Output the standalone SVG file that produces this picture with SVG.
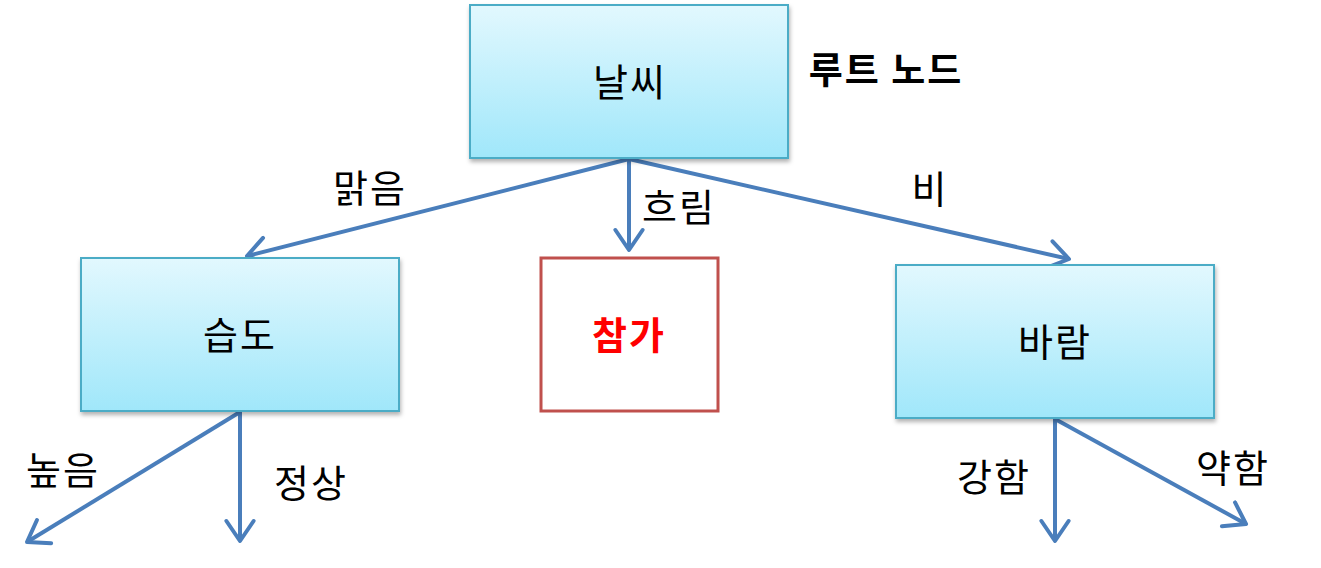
<svg xmlns="http://www.w3.org/2000/svg" width="1321" height="568" viewBox="0 0 1321 568">
<style>
.box{fill:url(#g);stroke:#4bacc6;stroke-width:2;filter:url(#sh)}
.t{font-family:"Noto Sans CJK KR","Noto Sans",sans-serif;font-size:38px;letter-spacing:2px;fill:#000;text-anchor:middle}
.c{fill:none;stroke:#4a7ebb;stroke-width:4;marker-end:url(#a)}
</style>
<defs>
<linearGradient id="g" x1="0" y1="0" x2="0" y2="1">
<stop offset="0" stop-color="#e2f8fe"/>
<stop offset="1" stop-color="#a0e7fa"/>
</linearGradient>
<filter id="sh" x="-10%" y="-10%" width="120%" height="130%">
<feDropShadow dx="1" dy="3" stdDeviation="2" flood-color="#000" flood-opacity="0.3"/>
</filter>
<marker id="a" markerWidth="8" markerHeight="8" refX="6" refY="4" orient="auto" markerUnits="strokeWidth" viewBox="0 0 8 8">
<path d="M1,0.6 L6,4 L1,7.4" fill="none" stroke="#4a7ebb" stroke-width="1" stroke-linecap="round" stroke-linejoin="round"/>
</marker>
</defs>
<g id="connectors">
<line class="c" x1="629" y1="159" x2="247" y2="256"/>
<line class="c" x1="629" y1="159" x2="629" y2="250"/>
<line class="c" x1="629" y1="159" x2="1069" y2="259"/>
<line class="c" x1="240" y1="412" x2="27" y2="542"/>
<line class="c" x1="240" y1="412" x2="240" y2="541"/>
<line class="c" x1="1055" y1="419" x2="1055" y2="541"/>
<line class="c" x1="1055" y1="419" x2="1246" y2="524"/>
<text class="t" x="370" y="202">맑음</text>
<text class="t" x="679" y="221">흐림</text>
<text class="t" x="930" y="203">비</text>
<text class="t" x="63" y="484">높음</text>
<text class="t" x="311" y="497">정상</text>
<text class="t" x="994" y="491">강함</text>
<text class="t" x="1233" y="482">약함</text>
</g>
<g id="root">
<rect class="box" x="470" y="5" width="318" height="153"/>
<text class="t" x="630" y="96">날씨</text>
</g>
<g id="rootlabel">
<text x="886" y="84" style="font-family:'Noto Sans CJK KR',sans-serif;font-size:37px;letter-spacing:2px;font-weight:bold;text-anchor:middle">루트 노드</text>
</g>
<g id="humidity">
<rect class="box" x="81" y="258" width="318" height="153"/>
<text class="t" x="240" y="349">습도</text>
</g>
<g id="join">
<rect x="541" y="258" width="177" height="153" fill="#fff" stroke="#c0504d" stroke-width="3"/>
<text x="629" y="349" style="font-family:'Noto Sans CJK KR',sans-serif;font-size:38px;letter-spacing:2px;font-weight:bold;fill:#ff0000;text-anchor:middle">참가</text>
</g>
<g id="wind">
<rect class="box" x="896" y="265" width="318" height="153"/>
<text class="t" x="1055" y="356">바람</text>
</g>
</svg>
